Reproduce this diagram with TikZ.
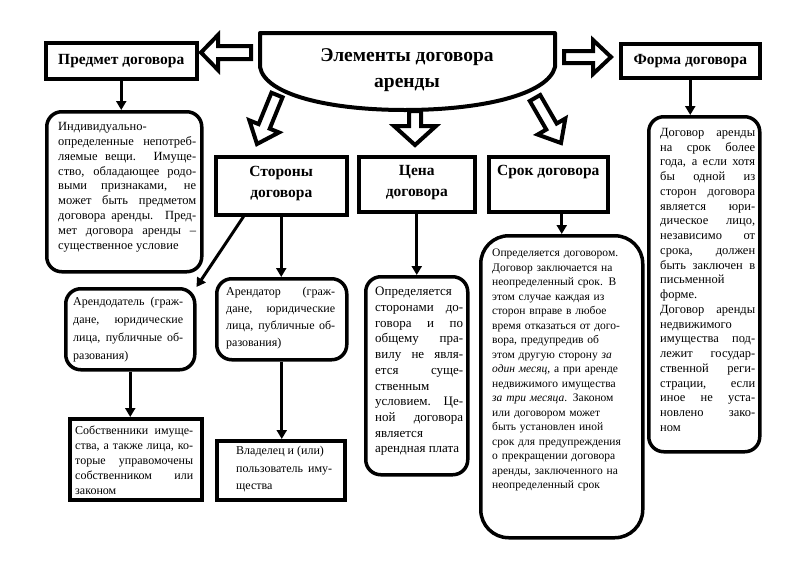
\documentclass[tikz,border=0pt]{standalone}
\usepackage{fontspec}
\setmainfont{Liberation Serif}
\usetikzlibrary{arrows.meta,calc}
\newcommand\ts[2]{\fontsize{#1}{#2}\selectfont}
\hyphenpenalty=10000
\hbadness=10000
\tikzset{
  hlabel/.style={inner sep=0pt, align=center, font=\ts{15.5}{21}\bfseries},
  sbox/.style={draw, line width=3.5pt, inner sep=0pt},
  rbox/.style={draw, line width=3.5pt, inner sep=0pt, rounded corners=15pt},
  txt/.style={anchor=north west, inner sep=0pt, align=justify},
  conn/.style={line width=3pt, -{Triangle[length=9pt,width=10pt]}},
  blockarr/.style={line width=4pt, fill=white, line join=miter},
}
\newcommand\mybox[6]{\node[#1, anchor=north west, minimum width={(#4)-(#2)}, minimum height={(#5)-(#3)}] (#6) at (#2,-#3) {};}
% hollow block arrow: from, to, shaft half width, head half width, head length
\newcommand\blockarrow[5]{%
  \draw[blockarr] let \p1=(#1), \p2=(#2), \n1={atan2(\y2-\y1,\x2-\x1)}, \n2={veclen(\x2-\x1,\y2-\y1)} in
    ($(\p1)+(\n1+90:#3)$) -- ($(\p1)+(\n1:\n2-#5)+(\n1+90:#3)$) -- ($(\p1)+(\n1:\n2-#5)+(\n1+90:#4)$)
    -- (\p2) -- ($(\p1)+(\n1:\n2-#5)+(\n1-90:#4)$) -- ($(\p1)+(\n1:\n2-#5)+(\n1-90:#3)$)
    -- ($(\p1)+(\n1-90:#3)$) -- cycle;}
\begin{document}
\begin{tikzpicture}[x=1pt,y=1pt]
\useasboundingbox[fill=white] (0,0) rectangle (800,-560);

% title shape
\draw[line width=4pt, line join=round, fill=white] (260,-33) -- (555,-33) -- (555,-67)
  .. controls (548,-95) and (480,-110) .. (405,-110)
  .. controls (330,-110) and (265,-95) .. (260,-67) -- cycle;
\node[font=\ts{19.5}{26}\bfseries, align=center, inner sep=0pt] (title) at (407,-70) {Элементы договора\\аренды};

% header boxes
\mybox{sbox}{44}{41}{195}{77}{predmet}
\mybox{sbox}{619}{42}{758}{76}{forma}
\mybox{sbox}{214}{155}{345}{213}{storony}
\mybox{sbox}{357}{155}{473}{210}{cena}
\mybox{sbox}{487}{155}{606}{210}{srok}
\node[hlabel] (predmetL) at (predmet.center) {Предмет договора};
\node[hlabel] (formaL) at (forma.center) {Форма договора};
\node[hlabel] (storonyL) at ([yshift=2]storony.center) {Стороны\\договора};
\node[hlabel] (cenaL) at ([yshift=2]cena.center) {Цена\\договора};
\node[hlabel, anchor=north] (srokL) at ([yshift=-10]srok.north) {Срок договора};

% content boxes
\mybox{rbox}{45}{110}{200}{270}{predmetT}
\mybox{rbox}{647}{115}{758}{450}{formaT}
\mybox{rbox, rounded corners=28pt}{479}{234}{641}{536}{srokT}
\mybox{rbox}{364}{275}{466}{473}{cenaT}
\mybox{rbox}{64}{287}{193}{368}{arendod}
\mybox{rbox}{215}{277}{345}{358}{arendat}
\mybox{sbox}{68}{417}{200}{498}{sobst}
\mybox{sbox}{215}{439}{343}{498}{vlad}

% hollow block arrows
\coordinate (aLs) at (251,-52.5); \coordinate (aLe) at (201,-52.5);
\coordinate (aRs) at (564,-57); \coordinate (aRe) at (611,-57);
\coordinate (aMs) at (415,-111); \coordinate (aMe) at (415,-145);
\coordinate (aLDs) at (277,-95); \coordinate (aLDe) at (257,-144);
\coordinate (aRDs) at (535,-98); \coordinate (aRDe) at (561,-143);
\blockarrow{aLs}{aLe}{6.5}{17.5}{17}
\blockarrow{aRs}{aRe}{6}{17}{18}
\blockarrow{aMs}{aMe}{6}{21}{19}
\blockarrow{aLDs}{aLDe}{6}{16}{19}
\blockarrow{aRDs}{aRDe}{6}{16}{19}

% connectors
\draw[conn] (predmet.south) -- (predmet.south |- predmetT.north);
\draw[conn] (forma.south) -- (forma.south |- formaT.north);
\draw[conn] (storony.south) -- (storony.south |- arendat.north);
\draw[conn] ($(storony.south west)!0.22!(storony.south east)$) -- (arendod.north east);
\draw[conn] (arendod.south) -- (arendod.south |- sobst.north);
\draw[conn] (arendat.south) -- (arendat.south |- vlad.north);
\draw[conn] (cena.south) -- (cena.south |- cenaT.north);
\draw[conn] (srokT.north |- srok.south) -- (srokT.north);

% texts
\node[txt, text width=138pt, font=\ts{12.5}{14.9}] (predmetX) at (58,-122) {Индивидуально-\linebreak
определенные непотреб-\linebreak ляемые вещи. Имуще-\linebreak ство, обладающее родо-\linebreak
выми признаками, не\linebreak может быть предметом\linebreak договора аренды. Пред-\linebreak
мет договора аренды –\linebreak существенное условие};

\node[txt, text width=110pt, font=\ts{12}{18}] (arendodX) at (73,-297) {Арендодатель (граж-\linebreak
дане, юридические\linebreak лица, публичные об-\linebreak разования)};

\node[txt, text width=109pt, font=\ts{12}{17}] (arendatX) at (226,-287) {Арендатор (граж-\linebreak
дане, юридические\linebreak лица, публичные об-\linebreak разования)};

\node[txt, text width=118pt, font=\ts{12}{15}] (sobstX) at (75,-426) {Собственники имуще-\linebreak
ства, а также лица, ко-\linebreak торые управомочены\linebreak собственником или\linebreak законом};

\node[txt, text width=96pt, font=\ts{12}{17.5}] (vladX) at (236,-446) {Владелец и (или)\par
пользователь иму-\linebreak щества};

\node[txt, text width=88pt, font=\ts{13}{15.7}] (cenaX) at (375,-287) {Определяется\linebreak
сторонами до-\linebreak говора и по\linebreak общему пра-\linebreak вилу не явля-\linebreak
ется суще-\linebreak ственным\linebreak условием. Це-\linebreak ной договора\linebreak
является\linebreak арендная плата};

\node[txt, align=left, text width=140pt, font=\ts{11.5}{14.5}] (srokX) at (492,-249) {Определяется договором.\\
Договор заключается на\\ неопределенный срок. В\\ этом случае каждая из\\
сторон вправе в любое\\ время отказаться от дого-\\ вора, предупредив об\\
этом другую сторону \textit{за}\\ \textit{один месяц}, а при аренде\\
недвижимого имущества\\ \textit{за три месяца}. Законом\\ или договором может\\
быть установлен иной\\ срок для предупреждения\\ о прекращении договора\\
аренды, заключенного на\\ неопределенный срок};

\node[txt, text width=95pt, font=\ts{12.5}{14.75}] (formaX) at (660,-128) {Договор аренды\linebreak
на срок более\linebreak года, а если хотя\linebreak бы одной из\linebreak
сторон договора\linebreak является юри-\linebreak дическое лицо,\linebreak
независимо от\linebreak срока, должен\linebreak быть заключен в\linebreak
письменной\linebreak форме.\par Договор аренды\linebreak недвижимого\linebreak
имущества под-\linebreak лежит государ-\linebreak ственной реги-\linebreak
страции, если\linebreak иное не уста-\linebreak новлено зако-\linebreak ном};
\end{tikzpicture}
\end{document}
